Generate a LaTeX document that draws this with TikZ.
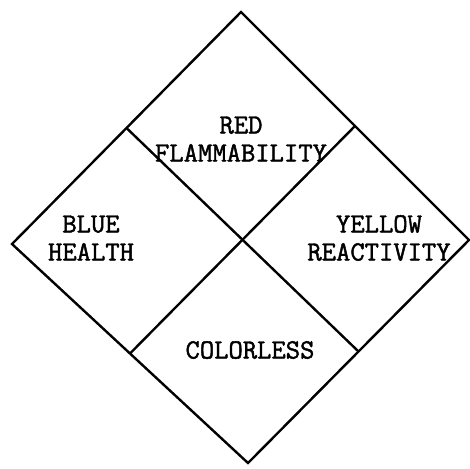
\documentclass[tikz,border=0pt]{standalone}
\usepackage{fontspec}
\newfontfamily\typewr{Latin Modern Mono}[FakeBold=1.6]
\usepackage{tikz}
\usetikzlibrary{calc}

\begin{document}
\begin{tikzpicture}[
  x=0.5pt, y=-0.5pt,
  edge/.style={draw=black, line width=1.2pt, line join=miter},
  lab/.style={font=\typewr\fontsize{13.9}{15}\selectfont, align=center, inner sep=0pt},
]
\useasboundingbox (0,0) rectangle (470,468);

% ------------------------------------------------------------------
% outer diamond and its corners
% ------------------------------------------------------------------
\coordinate (T) at (241,12);
\coordinate (L) at (12,244);
\coordinate (R) at (469,240);
\coordinate (B) at (248,463);
\coordinate (C) at (242,243);

\draw[edge] (T) -- (R) -- (B) -- (L) -- cycle;

% the two dividing lines
\draw[edge] ($(T)!0.5!(L)$) -- ($(R)!0.5!(B)$);
\draw[edge] ($(T)!0.5!(R)$) -- ($(L)!0.5!(B)$);

% ------------------------------------------------------------------
% labels of the four quarters
% ------------------------------------------------------------------
\node[lab] (red)    at (241,139) {RED\\[-1pt]FLAMMABILITY};
\node[lab] (blue)   at (91,238)  {BLUE\\[-1pt]HEALTH};
\node[lab] (yellow) at (379,238) {YELLOW\\[-1pt]REACTIVITY};
\node[lab] (none)   at (250,350) {COLORLESS};
\end{tikzpicture}
\end{document}
